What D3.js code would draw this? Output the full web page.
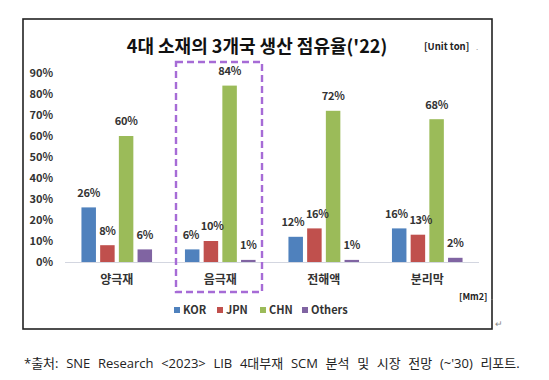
<!DOCTYPE html>
<html><head><meta charset="utf-8">
<script src="https://cdn.jsdelivr.net/npm/d3@7"></script>
<style>
html,body{margin:0;padding:0;background:#fff;}
svg{display:block;font-family:"Noto Sans CJK KR","Noto Sans",sans-serif;}
</style></head>
<body><svg id="c" width="549" height="380"></svg>
<script>
const categories = ["양극재","음극재","전해액","분리막"];
const seriesNames = ["KOR","JPN","CHN","Others"];
const seriesColors = ["#4F81BD","#C0504D","#9BBB59","#8064A2"];
const KOR = [26,6,12,16];
const JPN = [8,10,16,13];
const CHN = [60,84,72,68];
const Others = [6,1,1,2];
const yTicks = [0,10,20,30,40,50,60,70,80,90];
const title = "4대 소재의 3개국 생산 점유율('22)";
const footnote = "*출처:  SNE Research <2023> LIB 4대부재 SCM 분석 및 시장 전망 (~'30) 리포트.";

const seriesVals = [KOR,JPN,CHN,Others];
const svg = d3.select("#c");

// frame
svg.append("rect").attr("x",23).attr("y",19).attr("width",469).attr("height",310)
  .attr("fill","none").attr("stroke","#222").attr("stroke-width",1.6);

// title
svg.append("text").attr("x",257).attr("y",53).attr("text-anchor","middle")
  .attr("font-size",18).attr("font-weight","bold").attr("fill","#111").text(title);
svg.append("text").attr("x",424).attr("y",50).attr("font-size",9.5).attr("font-weight","bold")
  .attr("fill","#222").text("[Unit ton]");
svg.append("text").attr("x",476).attr("y",50).attr("font-size",8).attr("fill","#999").text(".");

const x0 = d3.scaleBand().domain(categories).range([65,479]);
const x1 = d3.scaleBand().domain(seriesNames).range([0,70.6]).paddingInner(0.225);
const y = d3.scaleLinear().domain([0,90]).range([262,73]);

// y axis labels
svg.append("g").selectAll("text").data(yTicks).join("text")
  .attr("x",53).attr("y",d=>y(d)).attr("dy","0.35em").attr("text-anchor","end")
  .attr("font-size",11).attr("font-weight","bold").attr("fill","#333").text(d=>d+"%");

// baseline
svg.append("line").attr("x1",65).attr("x2",479).attr("y1",y(0)+0.5).attr("y2",y(0)+0.5)
  .attr("stroke","#d3d6e0").attr("stroke-width",1.2);

const flat = [];
categories.forEach((c,i)=>seriesNames.forEach((s,j)=>flat.push({c,s,j,v:seriesVals[j][i]})));
const bx = d=> x0(d.c)+x0.bandwidth()/2-35.3+x1(d.s);

svg.append("g").selectAll("rect").data(flat).join("rect")
  .attr("x",bx).attr("width",x1.bandwidth())
  .attr("y",d=>y(d.v)).attr("height",d=>y(0)-y(d.v))
  .attr("fill",d=>seriesColors[d.j]);

const labels = svg.append("g").selectAll("text").data(flat).join("text")
  .attr("x",d=>bx(d)+x1.bandwidth()/2).attr("y",d=>y(d.v)-14.5).attr("dy","0.35em")
  .attr("text-anchor","middle").attr("font-size",11).attr("font-weight","bold").attr("fill","#333")
  .attr("letter-spacing",-0.3)
  .text(d=>d.v+"%");

// simple collision nudge between neighbouring labels
const nodes = labels.nodes();
for (let k=1;k<nodes.length;k++){
  const a = nodes[k-1], b = nodes[k];
  const ba = a.getBBox(), bb = b.getBBox();
  const hOv = ba.x+ba.width - bb.x;
  const vOv = Math.min(ba.y+ba.height, bb.y+bb.height) - Math.max(ba.y, bb.y);
  if (hOv>0 && vOv>0 && ba.x < bb.x){
    const s = hOv/2+0.5;
    a.setAttribute("x", +a.getAttribute("x")-s);
    b.setAttribute("x", +b.getAttribute("x")+s);
  }
}

// category labels
svg.append("g").selectAll("text").data(categories).join("text")
  .attr("x",d=>x0(d)+x0.bandwidth()/2).attr("y",280).attr("dy","0.35em")
  .attr("text-anchor","middle").attr("font-size",12).attr("font-weight","bold").attr("fill","#333").text(d=>d);

// highlight box
svg.append("rect").attr("x",176).attr("y",62).attr("width",86).attr("height",230)
  .attr("fill","none").attr("stroke","#a66bd6").attr("stroke-width",2.4).attr("stroke-dasharray","7,4");

// [Mm2]
svg.append("text").attr("x",459).attr("y",300).attr("font-size",9).attr("font-weight","bold")
  .attr("fill","#222").text("[Mm2]");
svg.append("text").attr("x",491).attr("y",300).attr("font-size",7).attr("fill","#999").text(".");

// legend
const legX = [174,217,260,302];
const lg = svg.append("g").selectAll("g").data(seriesNames).join("g")
  .attr("transform",(d,i)=>`translate(${legX[i]},310)`);
lg.append("rect").attr("x",0).attr("y",-3).attr("width",6).attr("height",6).attr("fill",(d,i)=>seriesColors[i]);
lg.append("text").attr("x",9).attr("y",0).attr("dy","0.35em").attr("font-size",11).attr("font-weight","bold")
  .attr("fill","#333").text(d=>d);

svg.append("text").attr("x",495).attr("y",327).attr("font-size",9).attr("fill","#888").text("↵");

// footnote: justified by word spacing
const fn = svg.append("text").attr("x",24).attr("y",363).attr("dy","0.35em").attr("font-size",13)
  .attr("font-family","'Open Sans','Noto Sans CJK KR',sans-serif")
  .attr("fill","#222").text(footnote);
const natural = fn.node().getComputedTextLength();
const nSpaces = (footnote.match(/ /g)||[]).length;
const ws = (500-natural)/nSpaces;
fn.attr("word-spacing",ws);
</script></body></html>
